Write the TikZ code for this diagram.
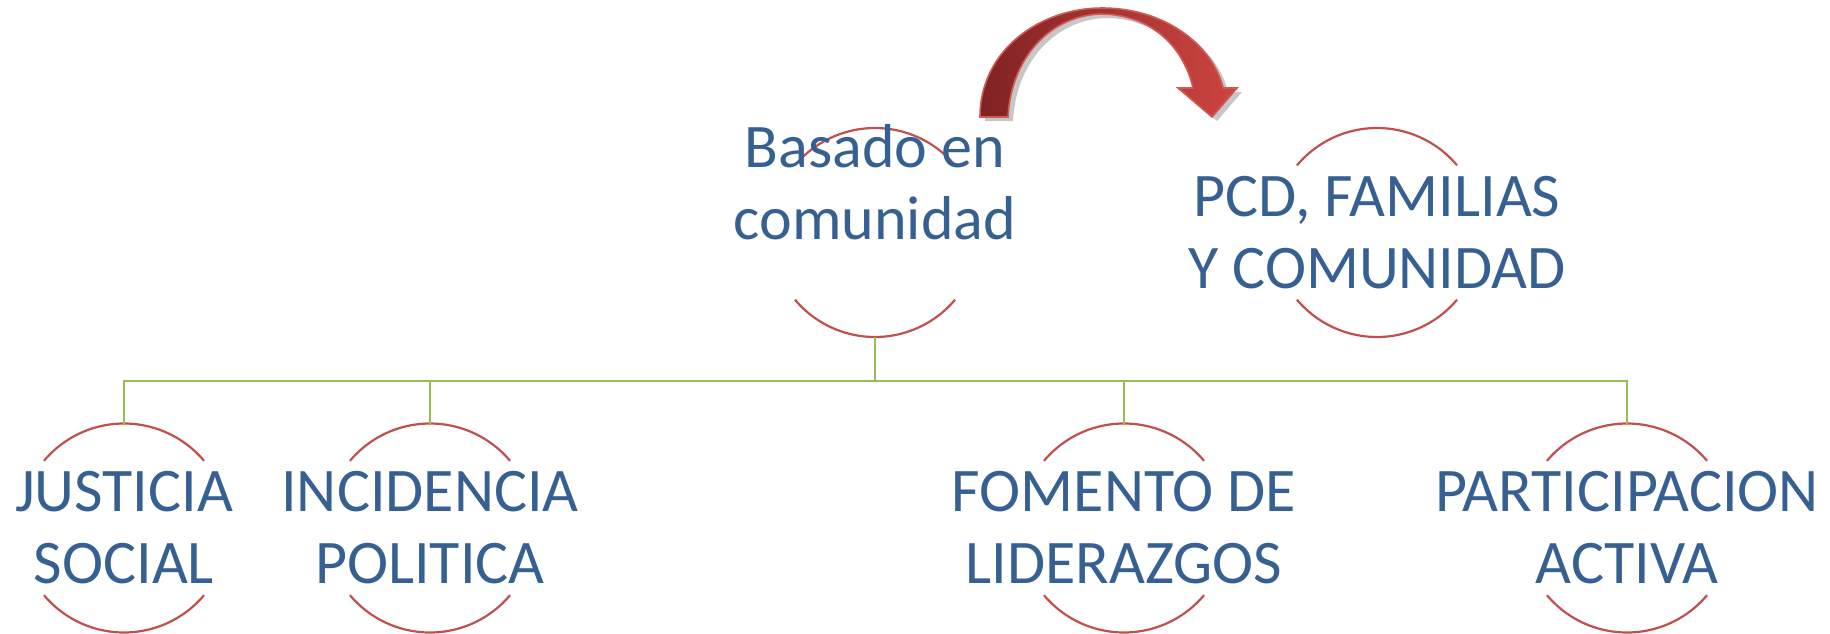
\documentclass[tikz,border=0pt]{standalone}
\usepackage{fontspec}
\setmainfont{Carlito}
\definecolor{txtblue}{HTML}{366092}
\definecolor{arcred}{HTML}{C0504D}
\definecolor{busgreen}{HTML}{9BBB59}
\definecolor{arrowdark}{HTML}{802222}
\definecolor{arrowlight}{HTML}{CD4541}
\definecolor{arrowedge}{HTML}{D05A55}
\begin{document}
\begin{tikzpicture}[x=0.5pt,y=-0.5pt,
  ring/.style={circle,minimum size=104.5pt,inner sep=0pt,outer sep=0pt},
  arcline/.style={draw=arcred,line width=1.1pt},
  conn/.style={draw=busgreen,line width=1.1pt},
  label/.style={text=txtblue,align=center,font=\fontsize{31}{36}\selectfont,inner sep=0pt}]
\useasboundingbox (0,0) rectangle (1830,633);
% rings
\node[ring] (top) at (875,232.5) {};
\node[ring] (pcd) at (1377,232.5) {};
\node[ring] (b1) at (124,528) {};
\node[ring] (b2) at (430,528) {};
\node[ring] (b3) at (1124,528) {};
\node[ring] (b4) at (1627,528) {};
\foreach \n in {top,pcd,b1,b2,b3,b4}{
  \draw[arcline] (\n.40) arc[start angle=40,end angle=140,radius=52.25pt];
  \draw[arcline] (\n.220) arc[start angle=220,end angle=320,radius=52.25pt];
}
% connectors
\coordinate (bus) at (875,381);
\draw[conn] (top.south) -- (bus);
\draw[conn] (bus) -| (b1.north);
\draw[conn] (bus) -| (b2.north);
\draw[conn] (bus) -| (b3.north);
\draw[conn] (bus) -| (b4.north);
% texts
\node[label] (ttop) at (875,182) {Basado en\\comunidad};
\node[label] (tpcd) at (pcd) {PCD, FAMILIAS\\Y COMUNIDAD};
\node[label] (tb1) at (b1) {JUSTICIA\\SOCIAL};
\node[label] (tb2) at (b2) {INCIDENCIA\\POLITICA};
\node[label] (tb3) at (b3) {FOMENTO DE\\LIDERAZGOS};
\node[label] (tb4) at (b4) {PARTICIPACION\\ACTIVA};
% curved arrow
\def\arrowpath{(980,117) .. controls (980,50) and (1040,8) .. (1102,8)
  .. controls (1168,8) and (1214,48) .. (1223,88) -- (1237,88) -- (1212,117) -- (1178,88) -- (1193,88)
  .. controls (1184,48) and (1152,14) .. (1100,14)
  .. controls (1050,16) and (1011,58) .. (1008,117) -- cycle}
\fill[black!22,shift={(2.5pt,-2pt)}] \arrowpath;
\shade[draw=arrowedge,line width=0.8pt,left color=arrowdark,right color=arrowlight] \arrowpath;
\end{tikzpicture}
\end{document}
